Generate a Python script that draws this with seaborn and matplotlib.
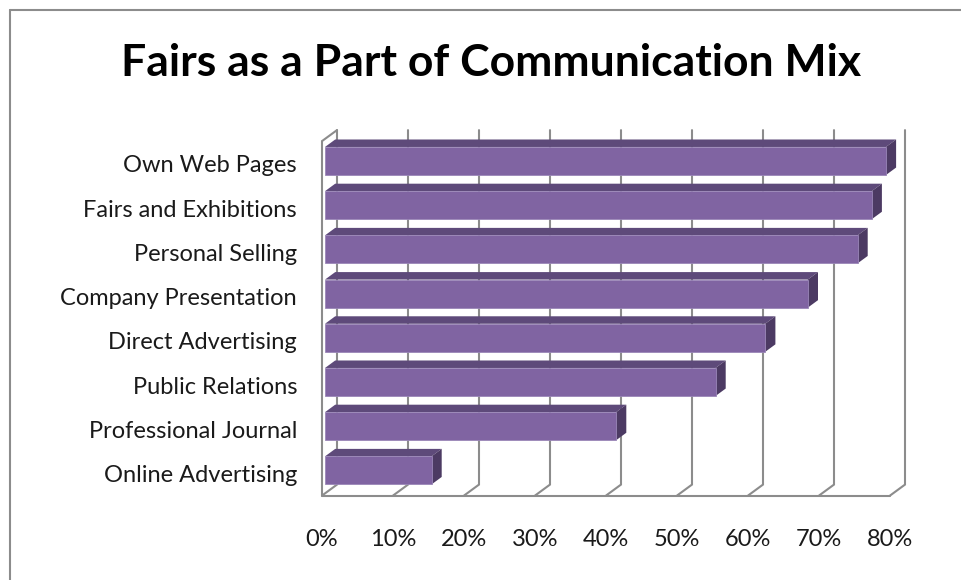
import numpy as np
import pandas as pd
import seaborn as sns
import matplotlib.pyplot as plt
from matplotlib.patches import Polygon
from matplotlib.lines import Line2D
from matplotlib.transforms import ScaledTranslation

# Chart content
title = "Fairs as a Part of Communication Mix"
channels = [
    "Own Web Pages",
    "Fairs and Exhibitions",
    "Personal Selling",
    "Company Presentation",
    "Direct Advertising",
    "Public Relations",
    "Professional Journal",
    "Online Advertising",
]
shares = [79, 77, 75, 68, 62, 55, 41, 15]
x_ticks = [0, 10, 20, 30, 40, 50, 60, 70, 80]
x_tick_labels = [f"{t}%" for t in x_ticks]

# Colours
FRONT = "#8064A2"
TOP = "#5E4A7A"
SIDE = "#4C3A63"
EDGE = "#9A86B8"
GRID = "#8C8C8C"

sns.set_theme(style="white")
plt.rcParams["font.family"] = ["Lato", "DejaVu Sans"]

W, H = 961, 580
fig = plt.figure(figsize=(W / 100, H / 100), dpi=100)

# Axes placement in pixels (bar front plane: 0% at x=325, 7.1 px per %,
# first category at y=161, 44.2 px per category)
x0_px, px_per_unit = 325.0, 7.1
y0_px, px_per_cat = 161.0, 44.2
xlim = (-1.0, 83.0)
ylim = (7.7, -0.9)
left_px = x0_px + xlim[0] * px_per_unit
right_px = x0_px + xlim[1] * px_per_unit
top_px = y0_px + ylim[1] * px_per_cat
bot_px = y0_px + ylim[0] * px_per_cat
ax = fig.add_axes([left_px / W, 1 - bot_px / H,
                   (right_px - left_px) / W, (bot_px - top_px) / H])

df = pd.DataFrame({"channel": channels, "share": shares})
sns.barplot(data=df, x="share", y="channel", order=channels, color=FRONT,
            saturation=1, width=0.635, edgecolor=EDGE, linewidth=0.6,
            ax=ax, zorder=3)

ax.set_xlim(*xlim)
ax.set_ylim(*ylim)
for s in ax.spines.values():
    s.set_visible(False)
ax.set_xlabel("")
ax.set_ylabel("")

# Oblique depth direction (data units per full depth)
DX = 15 / px_per_unit
DY = -11 / px_per_cat
FRONT_D, BACK_D = -0.2, 0.8
WALL_TOP, WALL_BOT = -0.5, 7.52
BAR_DEPTH = 0.68


def pt(v, i, d):
    return v + d * DX, i + d * DY


# Back wall gridlines with their floor diagonals
for t in x_ticks:
    xa, ya = pt(t, WALL_TOP, BACK_D)
    xb, yb = pt(t, WALL_BOT, BACK_D)
    xc, yc = pt(t, WALL_BOT, FRONT_D)
    ax.plot([xa, xb, xc], [ya, yb, yc], color=GRID, lw=1.5,
            solid_joinstyle="miter", zorder=1)

# Left wall front edge
p1 = pt(0, WALL_BOT, FRONT_D)
p2 = pt(0, WALL_TOP, FRONT_D)
p3 = pt(0, WALL_TOP, BACK_D)
ax.plot([p1[0], p2[0], p3[0]], [p1[1], p2[1], p3[1]], color=GRID, lw=1.5,
        solid_joinstyle="miter", zorder=1)

# Front floor edge
f1 = pt(x_ticks[0], WALL_BOT, FRONT_D)
f2 = pt(x_ticks[-1], WALL_BOT, FRONT_D)
ax.plot([f1[0], f2[0]], [f1[1], f2[1]], color=GRID, lw=1.5, zorder=1)

# Top and side faces of each bar
for bar in ax.patches:
    x, y = bar.get_x(), bar.get_y()
    w, h = bar.get_width(), bar.get_height()
    ddx, ddy = BAR_DEPTH * DX, BAR_DEPTH * DY
    top_face = [(x, y), (x + w, y), (x + w + ddx, y + ddy), (x + ddx, y + ddy)]
    side_face = [(x + w, y), (x + w + ddx, y + ddy),
                 (x + w + ddx, y + h + ddy), (x + w, y + h)]
    ax.add_patch(Polygon(top_face, closed=True, facecolor=TOP,
                         edgecolor="none", zorder=2.5))
    ax.add_patch(Polygon(side_face, closed=True, facecolor=SIDE,
                         edgecolor="none", zorder=2.5))

# Tick labels: values at the front plane, categories on the left
ax.set_xticks([t + FRONT_D * DX for t in x_ticks])
ax.set_xticklabels(x_tick_labels)
ax.set_yticks(range(len(channels)))
ax.set_yticklabels(channels)
ax.tick_params(axis="x", length=0, pad=20, labelsize=17, labelcolor="#1a1a1a")
ax.tick_params(axis="y", length=0, pad=15, labelsize=17, labelcolor="#1a1a1a")
ax.grid(False)

# Category labels sit level with the front plane of the chart box
shift = ScaledTranslation(0, -3 / 100, fig.dpi_scale_trans)
for lbl in ax.get_yticklabels():
    lbl.set_transform(lbl.get_transform() + shift)

# Title
fig.text(491 / W, 1 - 63 / H, title, ha="center", va="center",
         fontsize=32, fontweight="bold", color="#000000")

# Chart area border
fig.add_artist(Line2D([10 / W, 10 / W], [0, 1 - 10 / H],
                      transform=fig.transFigure, color="#8C8C8C", lw=1.5))
fig.add_artist(Line2D([10 / W, 1], [1 - 10 / H, 1 - 10 / H],
                      transform=fig.transFigure, color="#8C8C8C", lw=1.5))

fig.savefig("out.png", dpi=100, facecolor="white")
